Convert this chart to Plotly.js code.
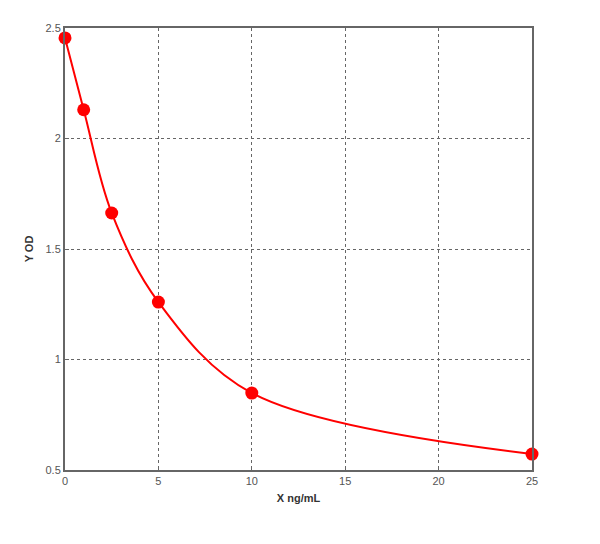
<!DOCTYPE html>
<html><head><meta charset="utf-8">
<script src="https://cdn.plot.ly/plotly-3.0.1.min.js"></script>
<style>html,body{margin:0;padding:0;background:#fff}</style>
</head><body>
<div id="chart" style="width:600px;height:544px"></div>
<script>
const xConc = [0, 1, 2.5, 5, 10, 25];
const yOD = [2.455, 2.13, 1.663, 1.26, 0.848, 0.572];
const xTicks = [0, 5, 10, 15, 20, 25];
const yTicks = [0.5, 1, 1.5, 2, 2.5];

const data = [
  {x: xConc, y: yOD, type: 'scatter', mode: 'lines',
   line: {color: '#ff0000', width: 2, shape: 'spline', smoothing: 1.0}, hoverinfo: 'skip'},
  {x: xConc, y: yOD, type: 'scatter', mode: 'markers',
   marker: {color: '#ff0000', size: 13}, cliponaxis: false}
];
const axFont = {family: 'Liberation Sans, Arial, sans-serif', size: 11, color: '#555'};
const layout = {
  width: 600, height: 544,
  margin: {l: 65, r: 68, t: 28, b: 74},
  paper_bgcolor: '#fff', plot_bgcolor: '#fff',
  showlegend: false,
  xaxis: {range: [0, 25], tickvals: xTicks, ticktext: xTicks.map(String),
    showgrid: true, gridcolor: '#666', griddash: 'dot', gridwidth: 1,
    zeroline: false, showline: true, linecolor: '#666', linewidth: 2, mirror: true,
    ticks: 'inside', ticklen: 4, tickcolor: '#666', tickfont: axFont,
    title: {text: '<b>X ng/mL</b>', font: {family: 'Liberation Sans, Arial, sans-serif', size: 11, color: '#333'}, standoff: 8}},
  yaxis: {range: [0.5, 2.5], tickvals: yTicks, ticktext: ['0.5','1','1.5','2','2.5'],
    showgrid: true, gridcolor: '#666', griddash: 'dot', gridwidth: 1,
    zeroline: false, showline: true, linecolor: '#666', linewidth: 2, mirror: true,
    ticks: 'inside', ticklen: 4, tickcolor: '#666', tickfont: axFont,
    title: {text: '<b>Y OD</b>', font: {family: 'Liberation Sans, Arial, sans-serif', size: 11, color: '#333'}, standoff: 10}}
};
Plotly.newPlot('chart', data, layout, {staticPlot: true});
</script>
</body></html>
